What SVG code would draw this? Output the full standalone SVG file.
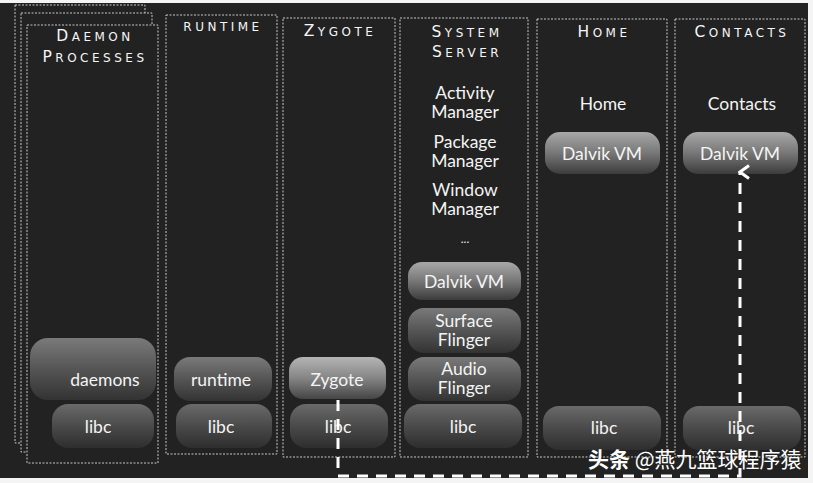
<svg xmlns="http://www.w3.org/2000/svg" width="813" height="483" viewBox="0 0 813 483">
<defs>
<style>
.col{fill:none;stroke:#c8c8c8;stroke-width:1;stroke-dasharray:2 1.5}
.colf{fill:#222222;stroke:#c8c8c8;stroke-width:1;stroke-dasharray:2 1.5}
.ttl{font-family:"DejaVu Sans",sans-serif;font-size:12px;letter-spacing:3.5px;fill:#f6f6f6;text-anchor:middle}
.ttl .c{font-size:15.5px}
.lbl{font-family:Lato,"Open Sans",sans-serif;font-size:17.5px;fill:#f4f4f4;text-anchor:middle}
.pill{stroke:none}
.arrow{fill:none;stroke:#ffffff;stroke-width:3;stroke-dasharray:11 8}
</style>
<linearGradient id="gLibc" x1="0" y1="0" x2="0" y2="1">
<stop offset="0" stop-color="#6a6a6a"/><stop offset="0.5" stop-color="#4a4a4a"/><stop offset="1" stop-color="#2e2e2e"/>
</linearGradient>
<linearGradient id="gMid" x1="0" y1="0" x2="0" y2="1">
<stop offset="0" stop-color="#7a7a7a"/><stop offset="0.5" stop-color="#555"/><stop offset="1" stop-color="#333"/>
</linearGradient>
<linearGradient id="gVM" x1="0" y1="0" x2="0" y2="1">
<stop offset="0" stop-color="#a8a8a8"/><stop offset="0.5" stop-color="#777"/><stop offset="1" stop-color="#3c3c3c"/>
</linearGradient>
<linearGradient id="gZy" x1="0" y1="0" x2="0" y2="1">
<stop offset="0" stop-color="#b5b5b5"/><stop offset="0.5" stop-color="#858585"/><stop offset="1" stop-color="#454545"/>
</linearGradient>
<marker id="ah" viewBox="0 0 16 12" refX="8" refY="2" markerWidth="16" markerHeight="12" markerUnits="userSpaceOnUse" orient="auto-start-reverse">
<path d="M1.5,11 L8,2 L14.5,11" fill="none" stroke="#fff" stroke-width="3"/>
</marker>
</defs>
<rect x="0" y="0" width="813" height="483" fill="#f4f4f4"/>
<rect x="0" y="3" width="808" height="475" fill="#222222"/>

<g id="daemon-processes">
<rect class="colf" x="15" y="5" width="130" height="438"/>
<rect class="colf" x="21" y="13" width="131" height="439"/>
<rect class="colf" x="27" y="25" width="131" height="438"/>
<text class="ttl" x="95" y="41"><tspan class="c">D</tspan>AEMON</text>
<text class="ttl" x="95" y="62"><tspan class="c">P</tspan>ROCESSES</text>
<rect class="pill" x="30" y="338" width="126" height="62" rx="18" fill="url(#gMid)"/>
<text class="lbl" x="105" y="386">daemons</text>
<rect class="pill" x="52" y="404" width="102" height="44" rx="16" fill="url(#gLibc)"/>
<text class="lbl" x="98" y="433">libc</text>
</g>

<g id="runtime">
<rect class="col" x="166" y="15" width="111" height="439"/>
<text class="ttl" x="223" y="31">RUNTIME</text>
<rect class="pill" x="174" y="357" width="98" height="44" rx="16" fill="url(#gMid)"/>
<text class="lbl" x="221" y="386">runtime</text>
<rect class="pill" x="176" y="404" width="96" height="44" rx="16" fill="url(#gLibc)"/>
<text class="lbl" x="221" y="433">libc</text>
</g>

<g id="zygote">
<rect class="col" x="283" y="18" width="112" height="439"/>
<text class="ttl" x="340" y="36"><tspan class="c">Z</tspan>YGOTE</text>
<rect class="pill" x="289" y="357" width="97" height="42" rx="14" fill="url(#gZy)"/>
<text class="lbl" x="337" y="386">Zygote</text>
<rect class="pill" x="290" y="404" width="98" height="44" rx="16" fill="url(#gLibc)"/>
<text class="lbl" x="338" y="433">libc</text>
</g>

<g id="system-server">
<rect class="col" x="400" y="18" width="128" height="439"/>
<text class="ttl" x="467" y="37"><tspan class="c">S</tspan>YSTEM</text>
<text class="ttl" x="467" y="57"><tspan class="c">S</tspan>ERVER</text>
<text class="lbl" x="465" y="99">Activity</text>
<text class="lbl" x="465" y="118">Manager</text>
<text class="lbl" x="465" y="148">Package</text>
<text class="lbl" x="465" y="167">Manager</text>
<text class="lbl" x="465" y="196">Window</text>
<text class="lbl" x="465" y="215">Manager</text>
<text class="lbl" x="465" y="243" style="font-size:12px">...</text>
<rect class="pill" x="408" y="262" width="113" height="38" rx="14" fill="url(#gVM)"/>
<text class="lbl" x="464" y="288">Dalvik VM</text>
<rect class="pill" x="408" y="308" width="113" height="45" rx="16" fill="url(#gMid)"/>
<text class="lbl" x="464" y="327">Surface</text>
<text class="lbl" x="464" y="346">Flinger</text>
<rect class="pill" x="408" y="357" width="113" height="44" rx="16" fill="url(#gMid)"/>
<text class="lbl" x="464" y="375">Audio</text>
<text class="lbl" x="464" y="394">Flinger</text>
<rect class="pill" x="404" y="404" width="118" height="44" rx="16" fill="url(#gLibc)"/>
<text class="lbl" x="463" y="433">libc</text>
</g>

<g id="home">
<rect class="col" x="537" y="19" width="130" height="438"/>
<text class="ttl" x="604" y="37"><tspan class="c">H</tspan>OME</text>
<text class="lbl" x="603" y="110">Home</text>
<rect class="pill" x="545" y="132" width="115" height="42" rx="15" fill="url(#gVM)"/>
<text class="lbl" x="602" y="160">Dalvik VM</text>
<rect class="pill" x="543" y="406" width="118" height="44" rx="16" fill="url(#gLibc)"/>
<text class="lbl" x="604" y="434">libc</text>
</g>

<g id="contacts">
<rect class="col" x="675" y="19" width="130" height="438"/>
<text class="ttl" x="742" y="37"><tspan class="c">C</tspan>ONTACTS</text>
<text class="lbl" x="742" y="110">Contacts</text>
<rect class="pill" x="683" y="132" width="115" height="42" rx="15" fill="url(#gVM)"/>
<text class="lbl" x="740" y="160">Dalvik VM</text>
<rect class="pill" x="683" y="406" width="118" height="44" rx="16" fill="url(#gLibc)"/>
<text class="lbl" x="741" y="434">libc</text>
</g>

<g id="connectors">
<path class="arrow" d="M338,400 L338,476 L740,476 L740,172" marker-end="url(#ah)"/>
</g>

<text x="588" y="467" style="font-family:'Noto Sans CJK SC',sans-serif;font-size:21px;fill:#ffffff"><tspan font-weight="bold">头条</tspan> @燕九篮球程序猿</text>
</svg>
